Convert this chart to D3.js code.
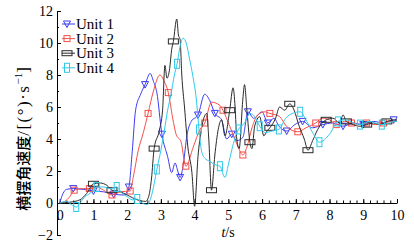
<!DOCTYPE html>
<html>
<head>
<meta charset="utf-8">
<script src="https://cdn.jsdelivr.net/npm/d3@7"></script>
<style>
  body { margin: 0; background: #fff; }
  svg { display: block; }
</style>
</head>
<body>
<div id="chart"></div>
<script>
// series names
var units = ['Unit 1', 'Unit 2', 'Unit 3', 'Unit 4'];

// [t (s), yaw rate (deg/s)]
var unit1 = [[0,0],[0.1,0.6],[0.2,0.85],[0.4,0.9],[0.7,0.85],[1.0,0.75],[1.3,0.7],[1.6,0.55],[1.9,0.5],
  [2.05,1.0],[2.15,3.2],[2.25,5.8],[2.4,6.8],[2.53,7.4],[2.68,8.1],[2.78,7.6],[2.88,6.9],[3.03,4.3],
  [3.2,2.9],[3.32,1.9],[3.42,2.5],[3.5,2.0],[3.57,1.6],[3.67,2.5],[3.77,4.2],[3.9,5.1],[4.1,5.5],
  [4.3,6.8],[4.45,6.4],[4.6,5.6],[4.8,5.2],[4.95,4.0],[5.1,4.3],[5.25,3.9],[5.43,4.1],[5.58,5.7],
  [5.75,5.3],[6.0,5.7],[6.17,5.0],[6.35,5.3],[6.5,4.8],[6.73,4.5],[6.97,4.9],[7.2,5.1],[7.5,4.7],
  [7.8,4.9],[8.1,5.0],[8.4,4.8],[8.7,5.0],[9.0,4.9],[9.3,5.1],[9.6,5.0],[9.9,5.2],[10,5.1]];
var unit2 = [[0,0],[0.15,0.1],[0.3,0.4],[0.43,0.8],[0.7,0.9],[0.88,0.9],[1.1,1.0],[1.3,0.8],[1.55,0.5],
  [1.8,0.7],[2.09,0.75],[2.18,1.6],[2.33,3.3],[2.48,4.4],[2.62,5.6],[2.78,7.0],[2.97,8.0],[3.1,7.6],
  [3.22,6.9],[3.35,5.3],[3.45,4.3],[3.6,3.8],[3.74,2.3],[3.96,3.5],[4.16,4.6],[4.3,5.0],[4.5,6.3],
  [4.75,6.1],[4.84,5.8],[5.04,4.8],[5.1,4.5],[5.29,3.5],[5.43,3.0],[5.55,3.5],[5.7,4.7],[5.87,5.5],
  [6.08,5.7],[6.23,5.6],[6.52,5.4],[6.72,4.8],[7.06,4.45],[7.3,4.7],[7.59,5.0],[7.8,5.3],[8.0,5.2],
  [8.2,4.9],[8.45,5.1],[8.65,5.0],[8.9,4.9],[9.1,5.0],[9.35,4.9],[9.6,5.0],[9.85,5.1],[10,5.1]];
var unit3 = [[0,0],[0.3,0.05],[0.6,0.2],[0.8,0.6],[1.0,1.2],[1.2,1.25],[1.4,1.1],[1.55,0.8],[1.8,0.7],
  [2.0,0.5],[2.3,0.2],[2.55,0.1],[2.65,0.5],[2.72,1.5],[2.8,3.4],[2.95,4.5],[3.05,5.8],[3.12,8.6],
  [3.18,7.8],[3.26,8.4],[3.32,9.6],[3.37,10.1],[3.47,11.5],[3.52,10.5],[3.57,10.2],[3.62,8.0],
  [3.7,6.0],[3.8,3.5],[3.92,1.9],[4.0,-0.2],[4.1,2.9],[4.2,4.6],[4.36,5.6],[4.42,4.0],[4.5,0.8],
  [4.6,3.0],[4.7,4.6],[4.8,5.2],[4.9,4.2],[5.04,5.8],[5.14,7.2],[5.2,6.0],[5.25,4.0],[5.32,3.4],
  [5.43,6.5],[5.48,7.4],[5.55,5.8],[5.64,3.8],[5.7,3.4],[5.78,4.8],[5.93,5.4],[6.05,4.2],[6.15,4.5],
  [6.23,4.7],[6.4,5.3],[6.52,6.0],[6.67,5.8],[6.82,6.2],[6.95,5.8],[7.1,4.8],[7.25,4.0],[7.36,3.3],
  [7.5,3.9],[7.65,4.6],[7.9,5.2],[8.1,5.3],[8.3,5.0],[8.4,5.5],[8.5,5.1],[8.7,4.9],[8.9,4.8],
  [9.1,4.9],[9.3,5.0],[9.5,4.9],[9.7,5.1],[10,5.2]];
var unit4 = [[0,0],[0.2,0.1],[0.35,-0.1],[0.49,-0.25],[0.6,0.0],[0.75,0.4],[0.9,0.6],[1.1,1.0],[1.3,1.0],
  [1.5,0.9],[1.69,1.0],[1.85,0.6],[2.0,0.4],[2.15,0.2],[2.3,0.25],[2.45,0.0],[2.6,-0.1],[2.7,0.3],
  [2.8,1.2],[2.88,2.1],[3.0,3.3],[3.1,4.5],[3.2,5.8],[3.3,6.8],[3.4,8.0],[3.48,8.7],[3.57,9.8],
  [3.66,10.3],[3.75,10.0],[3.85,9.0],[3.95,7.9],[4.05,6.5],[4.13,4.6],[4.2,3.3],[4.3,2.8],[4.45,2.6],
  [4.6,2.4],[4.75,2.3],[4.9,1.6],[5.0,2.4],[5.1,3.3],[5.2,4.1],[5.3,4.6],[5.48,5.0],[5.64,5.6],
  [5.78,5.4],[5.93,4.8],[6.1,4.4],[6.3,4.5],[6.5,4.6],[6.7,5.3],[6.9,5.6],[7.13,5.7],[7.3,5.2],
  [7.5,4.4],[7.7,3.8],[8.0,4.3],[8.25,5.1],[8.5,5.2],[8.7,5.0],[8.9,4.9],[9.2,5.1],[9.35,5.0],
  [9.55,4.9],[9.75,5.0],[9.9,5.1],[10,5.1]];

// times where a marker sits on each curve
var marks1 = [0.4,1.0,1.6,2.05,2.53,3.03,3.57,4.1,4.6,5.1,5.58,6.17,6.73,7.2,7.8,8.4,9.0,9.9];
var marks2 = [0.43,0.88,1.55,2.09,2.62,3.22,3.74,4.3,4.84,5.43,6.23,7.06,7.59,8.2,8.65,9.1,9.6];
var marks3 = [1.0,1.55,2.8,3.37,4.5,5.04,5.64,6.23,6.82,7.36,7.9,8.5,9.1,9.7];
var marks4 = [0.49,1.1,1.69,2.3,2.88,3.48,4.13,4.75,5.3,5.93,6.5,7.13,7.7,8.25,8.9,9.55];

var xTicks = d3.range(0, 11);
var yTicks = [-2, 0, 2, 4, 6, 8, 10, 12];

var W = 414, H = 251;
var SERIF = '"Liberation Serif", "Times New Roman", "DejaVu Serif", serif';
var series = [
  { name: units[0], data: unit1, marks: marks1, color: '#3b3bf5', shape: 'tri' },
  { name: units[1], data: unit2, marks: marks2, color: '#f5504a', shape: 'sq' },
  { name: units[2], data: unit3, marks: marks3, color: '#2a2a2a', shape: 'wide' },
  { name: units[3], data: unit4, marks: marks4, color: '#2fc9ec', shape: 'tall' }
];

var svg = d3.select('#chart').append('svg').attr('width', W).attr('height', H);

var x = d3.scaleLinear().domain([-0.08, 10]).range([57, 397]);
var y = d3.scaleLinear().domain([-2, 12]).range([235, 11]);

// y axis, ticks pointing inward
svg.append('g').attr('transform', 'translate(' + x(-0.08) + ',0)')
  .call(d3.axisLeft(y).tickValues(yTicks).tickSize(-4).tickSizeOuter(0).tickPadding(4));
svg.append('g').attr('transform', 'translate(' + x(-0.08) + ',0)')
  .call(d3.axisLeft(y).tickValues(d3.range(-1, 12, 2)).tickSize(-2).tickSizeOuter(0).tickFormat(''))
  .select('.domain').remove();

// x axis at y = 0
svg.append('g').attr('transform', 'translate(0,' + y(0) + ')')
  .call(d3.axisBottom(x).tickValues(d3.range(0.2, 10.01, 0.2)).tickSize(-2.5).tickSizeOuter(0).tickFormat(''));
svg.append('g').attr('transform', 'translate(0,' + y(0) + ')')
  .call(d3.axisBottom(x).tickValues(xTicks).tickSize(-4).tickSizeOuter(0).tickPadding(7).tickFormat(d3.format('d')))
  .select('.domain').remove();

svg.selectAll('.domain, .tick line').attr('stroke', '#000').attr('stroke-width', 1);
svg.selectAll('.tick text').attr('font-family', SERIF).attr('font-size', 14).attr('fill', '#000');

var line = d3.line().x(function (d) { return x(d[0]); }).y(function (d) { return y(d[1]); })
  .curve(d3.curveMonotoneX);

function marker(g, shape, color) {
  if (shape === 'tri') {
    g.append('path').attr('d', 'M-3.5,-3L3.5,-3L0,3.5Z');
  } else if (shape === 'sq') {
    g.append('rect').attr('x', -3).attr('y', -3).attr('width', 6).attr('height', 6);
  } else if (shape === 'wide') {
    g.append('rect').attr('x', -5).attr('y', -2.5).attr('width', 10).attr('height', 5);
  } else {
    g.append('rect').attr('x', -2.5).attr('y', -4.5).attr('width', 5).attr('height', 9);
  }
  g.selectAll('path, rect').attr('fill', 'none').attr('stroke', color).attr('stroke-width', 1);
}

series.forEach(function (s) {
  svg.append('path').datum(s.data).attr('d', line)
    .attr('fill', 'none').attr('stroke', s.color).attr('stroke-width', 1);
  var pts = s.data.filter(function (d) { return s.marks.indexOf(d[0]) >= 0; });
  pts.forEach(function (d) {
    var g = svg.append('g').attr('transform', 'translate(' + x(d[0]) + ',' + y(d[1]) + ')');
    marker(g, s.shape, s.color);
  });
});

// legend
series.forEach(function (s, i) {
  var ly = 24 + i * 14.6;
  svg.append('line').attr('x1', 62).attr('x2', 75).attr('y1', ly).attr('y2', ly)
    .attr('stroke', s.color).attr('stroke-width', 1);
  var g = svg.append('g').attr('transform', 'translate(67,' + ly + ')');
  marker(g, s.shape, s.color);
  svg.append('text').attr('x', 76).attr('y', ly + 5)
    .attr('font-family', SERIF).attr('font-size', 15).text(s.name);
});

// axis titles
var xt = svg.append('text').attr('x', 228).attr('y', 237).attr('text-anchor', 'middle')
  .attr('font-family', SERIF).attr('font-size', 14);
xt.append('tspan').attr('font-style', 'italic').text('t');
xt.append('tspan').text('/s');

var yt = svg.append('text').attr('transform', 'translate(29,139) rotate(-90)')
  .attr('text-anchor', 'middle').attr('font-size', 15);
yt.append('tspan').attr('font-family', '"Noto Sans CJK SC", sans-serif').attr('font-weight', 500).text('横摆角速度');
yt.append('tspan').attr('font-family', SERIF).attr('font-size', 17).attr('letter-spacing', 1.5).text('/[(°)·s');
yt.append('tspan').attr('font-family', SERIF).attr('font-size', 11).attr('dy', -7).text('−1');
yt.append('tspan').attr('font-family', SERIF).attr('font-size', 17).attr('dy', 7).text(']');
</script>
</body>
</html>
